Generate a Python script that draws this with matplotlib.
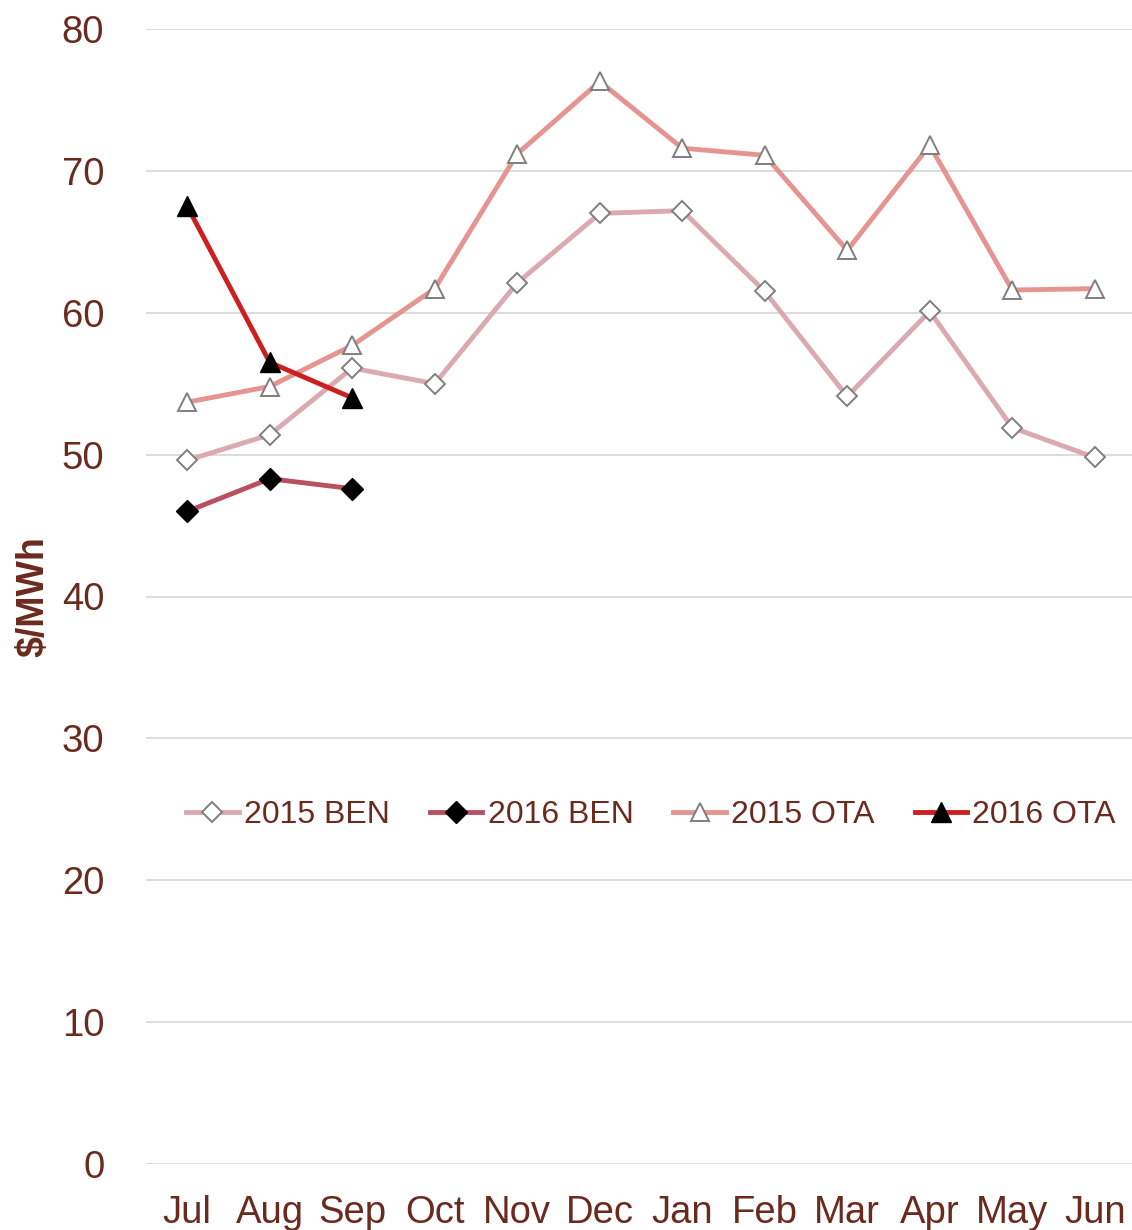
import matplotlib
matplotlib.use("Agg")
import matplotlib.pyplot as plt
import numpy as np

plt.rcParams["font.family"] = ["Liberation Sans", "DejaVu Sans"]

months = ["Jul", "Aug", "Sep", "Oct", "Nov", "Dec", "Jan", "Feb", "Mar", "Apr", "May", "Jun"]
ben_2015 = [49.6, 51.4, 56.1, 55.0, 62.1, 67.0, 67.2, 61.5, 54.1, 60.1, 51.9, 49.8]
ben_2016 = [46.0, 48.3, 47.6]
ota_2015 = [53.7, 54.8, 57.7, 61.7, 71.2, 76.3, 71.6, 71.1, 64.4, 71.8, 61.6, 61.7]
ota_2016 = [67.5, 56.5, 54.0]

TEXT = "#6b2a1e"
x = np.arange(len(months))

fig = plt.figure(figsize=(11.32, 12.30), dpi=100)
ax = fig.add_axes([146 / 1132, 1 - 1164 / 1230, 990 / 1132, (1164 - 29) / 1230])

ax.plot(x, ben_2015, color="#dba9b0", lw=3.5, marker="D", ms=10,
        mfc="white", mec="#7f7f7f", mew=1.4, label="2015 BEN", zorder=3)
ax.plot(x[:3], ben_2016, color="#b85060", lw=3.5, marker="D", ms=11,
        mfc="black", mec="black", label="2016 BEN", zorder=4)
ax.plot(x, ota_2015, color="#e59490", lw=3.5, marker="^", ms=13,
        mfc="white", mec="#7f7f7f", mew=1.4, label="2015 OTA", zorder=3)
ax.plot(x[:3], ota_2016, color="#cc2020", lw=3.5, marker="^", ms=14,
        mfc="black", mec="black", label="2016 OTA", zorder=5)

ax.set_xlim(-0.5, 11.5)
ax.set_ylim(0, 80)
ax.set_yticks(range(0, 81, 10))
ax.set_xticks(x)
ax.set_xticklabels(months)
ax.grid(axis="y", color="#d9d9d9", lw=1.3)
ax.set_axisbelow(True)
for s in ax.spines.values():
    s.set_visible(False)
ax.tick_params(axis="both", length=0, labelsize=27.5, colors=TEXT)
ax.tick_params(axis="y", pad=30)
ax.tick_params(axis="x", pad=22)

fig.text(33 / 1132, 1 - 597 / 1230, "$/MWh", rotation=90, fontsize=27,
         fontweight="bold", color=TEXT, ha="center", va="center")

fig.legend(loc="center", bbox_to_anchor=(651 / 1132, 1 - 815 / 1230), ncol=4,
           frameon=False, fontsize=23, labelcolor=TEXT, handlelength=1.65,
           handletextpad=0.16, columnspacing=1.25, borderaxespad=0)

fig.savefig("out.png", dpi=100)
